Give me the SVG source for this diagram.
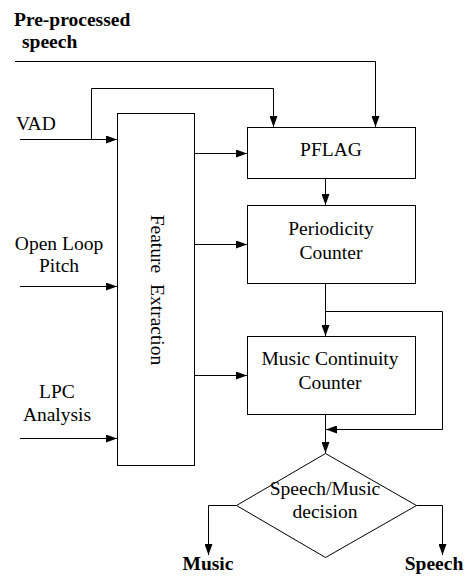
<svg xmlns="http://www.w3.org/2000/svg" width="470" height="576" viewBox="0 0 470 576">
  <defs>
    <marker id="arrow" markerUnits="userSpaceOnUse" markerWidth="11" markerHeight="8" refX="11" refY="4" orient="auto">
      <path d="M0,0 L11,4 L0,8 Z" fill="#000"/>
    </marker>
    <style>
      .box { fill: #fff; stroke: #000; stroke-width: 1; }
      .wire { fill: none; stroke: #000; stroke-width: 1; }
      .arr { marker-end: url(#arrow); }
      text { font-family: 'Liberation Serif', 'DejaVu Serif', serif; font-size: 19.5px; fill: #000; }
      .c { text-anchor: middle; }
      .b { font-weight: bold; }
    </style>
  </defs>

  <rect width="470" height="576" fill="#fff"/>

  <!-- input labels -->
  <g id="in-speech">
    <text class="b" x="14" y="26">Pre-processed</text>
    <text class="b" x="22" y="48">speech</text>
  </g>
  <g id="in-vad"><text x="16" y="130">VAD</text></g>
  <g id="in-pitch">
    <text class="c" x="59" y="250">Open Loop</text>
    <text class="c" x="59" y="272">Pitch</text>
  </g>
  <g id="in-lpc">
    <text class="c" x="57" y="398">LPC</text>
    <text class="c" x="57" y="421">Analysis</text>
  </g>

  <!-- processing blocks -->
  <g id="feature-extraction">
    <rect class="box" x="117.5" y="113.5" width="77" height="352"/>
    <text class="c" transform="translate(151,290) rotate(90)" word-spacing="6">Feature Extraction</text>
  </g>
  <g id="pflag">
    <rect class="box" x="247.5" y="127.5" width="168" height="51"/>
    <text class="c" x="331" y="156">PFLAG</text>
  </g>
  <g id="periodicity-counter">
    <rect class="box" x="247.5" y="205.5" width="168" height="78"/>
    <text class="c" x="331" y="235">Periodicity</text>
    <text class="c" x="331" y="259">Counter</text>
  </g>
  <g id="music-continuity-counter">
    <rect class="box" x="247.5" y="336.5" width="168" height="78"/>
    <text class="c" x="330" y="365">Music Continuity</text>
    <text class="c" x="330" y="389">Counter</text>
  </g>
  <g id="decision">
    <polygon class="box" points="325.5,453.5 416.5,505.5 325.5,557.5 236.5,505.5"/>
    <text class="c" x="325" y="495">Speech/Music</text>
    <text class="c" x="325" y="518">decision</text>
  </g>

  <!-- outputs -->
  <g id="out-music"><text class="b c" x="208" y="570">Music</text></g>
  <g id="out-speech"><text class="b c" x="434" y="570">Speech</text></g>

  <!-- connectors -->
  <g id="connectors">
    <polyline class="wire arr" points="15,61.5 375.5,61.5 375.5,127"/>
    <polyline class="wire arr" points="20,139.5 117,139.5"/>
    <polyline class="wire arr" points="91.5,139.5 91.5,88.5 273.5,88.5 273.5,127"/>
    <polyline class="wire arr" points="20,286.5 117,286.5"/>
    <polyline class="wire arr" points="20,438.5 117,438.5"/>
    <polyline class="wire arr" points="195,153.5 247,153.5"/>
    <polyline class="wire arr" points="195,244.5 247,244.5"/>
    <polyline class="wire arr" points="195,375.5 247,375.5"/>
    <polyline class="wire arr" points="325.5,179 325.5,205"/>
    <polyline class="wire arr" points="325.5,284 325.5,336"/>
    <polyline class="wire arr" points="325.5,311.5 442.5,311.5 442.5,429.5 326,429.5"/>
    <polyline class="wire arr" points="325.5,415 325.5,453"/>
    <polyline class="wire arr" points="236.5,505.5 208.5,505.5 208.5,555"/>
    <polyline class="wire arr" points="416.5,505.5 442.5,505.5 442.5,555"/>
  </g>
</svg>
